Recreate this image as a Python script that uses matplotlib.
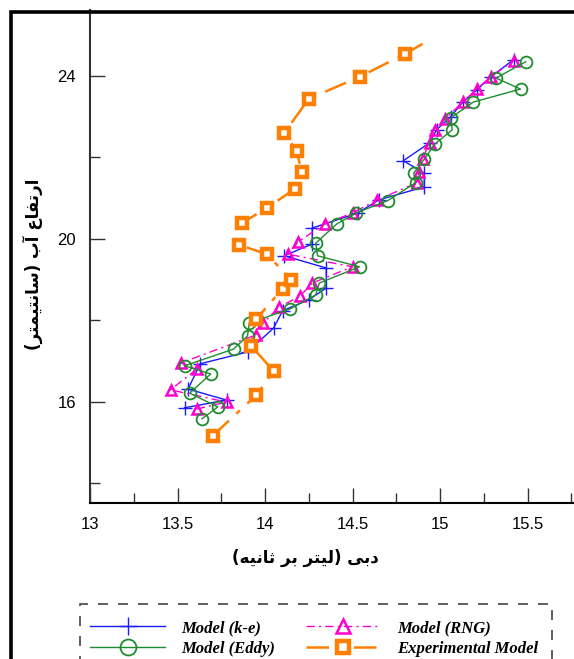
import matplotlib
matplotlib.use("Agg")
import matplotlib.pyplot as plt
from matplotlib.patches import Rectangle

# data (discharge l/s, water height cm)
ke_q = [13.54, 13.78, 13.56, 13.63, 13.90, 14.05, 14.10, 14.25, 14.35, 14.35, 14.11, 14.27,
        14.27, 14.53, 14.65, 14.91, 14.91, 14.79, 14.94, 14.98, 15.06, 15.13, 15.21, 15.29, 15.42]
ke_h = [15.85, 16.04, 16.31, 16.93, 17.22, 17.81, 18.23, 18.50, 18.79, 19.28, 19.58, 19.87,
        20.26, 20.63, 20.95, 21.27, 21.61, 21.91, 22.35, 22.67, 22.99, 23.35, 23.65, 23.97, 24.39]

rng_q = [13.61, 13.78, 13.46, 13.61, 13.52, 13.95, 13.99, 14.08, 14.20, 14.27, 14.50, 14.13, 14.19,
         14.34, 14.50, 14.64, 14.87, 14.88, 14.90, 14.94, 14.97, 15.03, 15.13, 15.21, 15.29, 15.42]
rng_h = [15.82, 15.99, 16.29, 16.80, 16.95, 17.64, 17.93, 18.32, 18.59, 18.91, 19.31, 19.62, 19.92,
         20.36, 20.63, 20.95, 21.37, 21.64, 21.96, 22.35, 22.67, 22.94, 23.35, 23.67, 23.97, 24.36]

eddy_q = [13.64, 13.73, 13.57, 13.69, 13.54, 13.82, 13.90, 13.91, 14.14, 14.29, 14.31, 14.54, 14.30,
          14.29, 14.41, 14.52, 14.70, 14.86, 14.85, 14.91, 14.97, 15.07, 15.06, 15.19, 15.46, 15.32, 15.49]
eddy_h = [15.58, 15.87, 16.21, 16.68, 16.88, 17.29, 17.61, 17.93, 18.27, 18.62, 18.91, 19.31, 19.58,
          19.89, 20.36, 20.63, 20.93, 21.37, 21.61, 21.95, 22.32, 22.67, 22.96, 23.35, 23.67, 23.94, 24.34]

exp_q = [13.70, 13.95, 14.05, 13.92, 13.95, 14.10, 14.15, 14.01, 13.85, 13.87, 14.01, 14.17,
         14.21, 14.18, 14.11, 14.25, 14.54, 14.80, 14.90]
exp_h = [15.16, 16.16, 16.75, 17.37, 18.03, 18.77, 18.99, 19.62, 19.85, 20.39, 20.75, 21.22,
         21.64, 22.15, 22.59, 23.43, 23.97, 24.53, 24.78]

x_ticks = [13, 13.5, 14, 14.5, 15, 15.5]
x_tick_labels = ["13", "13.5", "14", "14.5", "15", "15.5"]
y_ticks = [16, 20, 24]

# Arabic presentation forms: isolated, final, initial, medial
FORMS = {
    'ا': ('\uFE8D', '\uFE8E', None, None),
    'آ': ('\uFE81', '\uFE82', None, None),
    'ب': ('\uFE8F', '\uFE90', '\uFE91', '\uFE92'),
    'ت': ('\uFE95', '\uFE96', '\uFE97', '\uFE98'),
    'ث': ('\uFE99', '\uFE9A', '\uFE9B', '\uFE9C'),
    'د': ('\uFEA9', '\uFEAA', None, None),
    'ر': ('\uFEAD', '\uFEAE', None, None),
    'س': ('\uFEB1', '\uFEB2', '\uFEB3', '\uFEB4'),
    'ع': ('\uFEC9', '\uFECA', '\uFECB', '\uFECC'),
    'ف': ('\uFED1', '\uFED2', '\uFED3', '\uFED4'),
    'ل': ('\uFEDD', '\uFEDE', '\uFEDF', '\uFEE0'),
    'م': ('\uFEE1', '\uFEE2', '\uFEE3', '\uFEE4'),
    'ن': ('\uFEE5', '\uFEE6', '\uFEE7', '\uFEE8'),
    'ه': ('\uFEE9', '\uFEEA', '\uFEEB', '\uFEEC'),
    'ی': ('\uFEEF', '\uFEF0', '\uFEF3', '\uFEF4'),
}


def shape(text):
    # matplotlib has no arabic shaping, so pick the glyph forms by hand and reverse
    out = []
    for i, ch in enumerate(text):
        if ch not in FORMS:
            out.append(ch)
            continue
        prev = text[i - 1] if i > 0 else ''
        nxt = text[i + 1] if i + 1 < len(text) else ''
        joins_prev = prev in FORMS and FORMS[prev][2] is not None
        joins_next = FORMS[ch][2] is not None and nxt in FORMS
        iso, fin, ini, med = FORMS[ch]
        if joins_prev and joins_next:
            out.append(med)
        elif joins_prev:
            out.append(fin)
        elif joins_next:
            out.append(ini)
        else:
            out.append(iso)
    mirror = {'(': ')', ')': '('}
    return ''.join(mirror.get(c, c) for c in reversed(out))


W, H = 574, 659
fig = plt.figure(figsize=(W / 100, H / 100), dpi=100)

ax = fig.add_axes([90 / W, 156 / H, 3 * 175 / W, 493 / H])
ax.set_xlim(13, 16)
ax.set_ylim(13.514, 25.61)

blue = "#1a1aff"
pink = "#ff00cc"
green = "#1e8c2e"
orange = "#ff8000"

l_ke, = ax.plot(ke_q, ke_h, color=blue, lw=1.0, marker='+', ms=10, mew=1.0, label="Model (k-e)")
l_rng, = ax.plot(rng_q, rng_h, color=pink, lw=1.0, ls=(0, (6, 3, 1.5, 3)), marker='^', ms=7,
                 mew=1.8, mfc='none', label="Model (RNG)")
l_eddy, = ax.plot(eddy_q, eddy_h, color=green, lw=1.0, marker='o', ms=8.5, mew=1.3, mfc='none',
                  label="Model (Eddy)")
l_exp, = ax.plot(exp_q, exp_h, color=orange, lw=1.8, ls=(0, (9, 4, 2, 4)), marker='s', ms=6.5,
                 mew=3.2, mfc='white', markevery=list(range(len(exp_q) - 1)),
                 label="Experimental Model")

ax.spines['top'].set_visible(False)
ax.spines['right'].set_visible(False)
ax.spines['left'].set_color('#333333')
ax.spines['left'].set_linewidth(1.5)
ax.spines['bottom'].set_linewidth(1.5)

ax.set_xticks(x_ticks)
ax.set_xticklabels(x_tick_labels)
ax.set_xticks([13.25, 13.75, 14.25, 14.75, 15.25, 15.75], minor=True)
ax.set_yticks(y_ticks)
ax.set_yticks([14, 18, 22], minor=True)
ax.tick_params(which='both', direction='in', color='#333333', width=1.0,
               labelsize=12, pad=10)
ax.tick_params(which='major', length=11)
ax.tick_params(which='minor', length=7)
for lab in ax.get_xticklabels() + ax.get_yticklabels():
    lab.set_fontfamily('Liberation Sans')

fig.text(305 / W, 1 - 558 / H, shape("دبی (لیتر بر ثانیه)"), ha='center', va='center',
         fontsize=12, fontweight='bold', family='DejaVu Sans')
fig.text(33 / W, 1 - 264 / H, shape("ارتفاع آب (سانتیمتر)"), ha='center', va='center',
         rotation=90, fontsize=12, fontweight='bold', family='DejaVu Sans')

# page frame
fig.add_artist(Rectangle((10.5 / W, -0.1), 1.2, 1 - 11.5 / H + 0.1, transform=fig.transFigure,
                         fill=False, lw=2.6, ec='black'))

# dashed legend box
fig.add_artist(Rectangle((80 / W, -0.1), 472 / W, 1 - 604 / H + 0.1, transform=fig.transFigure,
                         fill=False, lw=1.2, ls=(0, (6, 6)), ec='#444444'))

# legend fills column-wise, so order gives rows (k-e, RNG) and (Eddy, Experimental)
fig.legend([l_ke, l_eddy, l_rng, l_exp],
           [l_ke.get_label(), l_eddy.get_label(), l_rng.get_label(), l_exp.get_label()],
           loc='upper left', bbox_to_anchor=(90 / W, 1 - 620 / H), ncol=2,
           frameon=False, borderaxespad=0, borderpad=0, handlelength=4.5,
           handletextpad=1.0, columnspacing=1.8, labelspacing=0.3, markerscale=1.35,
           prop={'family': 'Liberation Serif', 'weight': 'bold', 'style': 'italic',
                 'size': 12})

fig.savefig("out.png", dpi=100)
